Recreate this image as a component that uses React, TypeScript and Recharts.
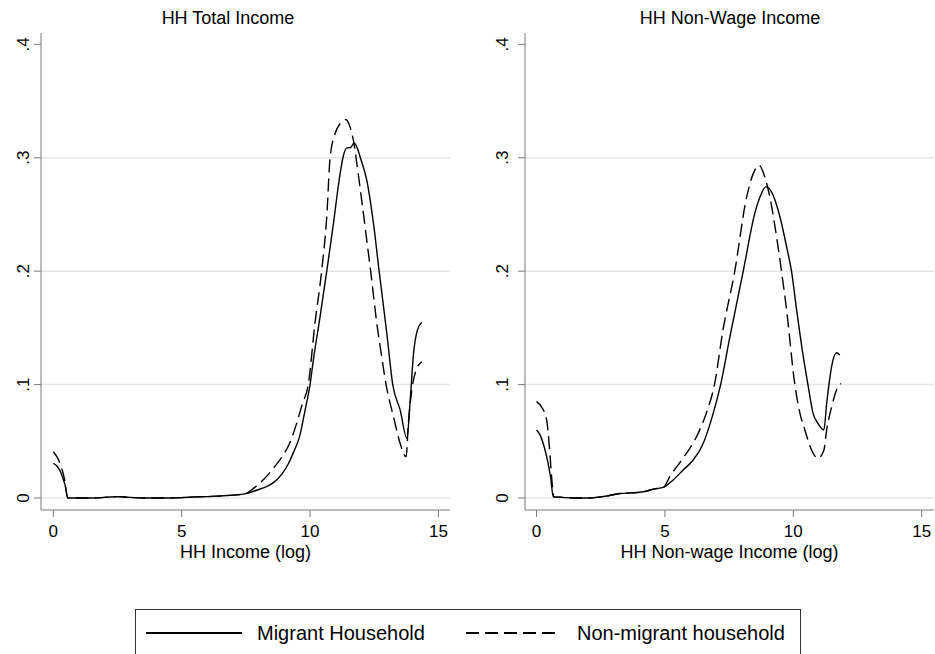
import { LineChart, Line, XAxis, YAxis, CartesianGrid } from 'recharts'

// kernel density estimates, log household income
const totalMigrantX = [0, 0.15, 0.3, 0.45, 0.58, 1, 1.5, 2, 2.5, 3, 3.5, 4, 4.5, 5, 5.5, 6, 6.5, 7, 7.5, 8, 8.3, 8.6, 8.9, 9.15, 9.35, 9.6, 9.81, 10.0, 10.13, 10.39, 10.65, 10.91, 11.17, 11.3, 11.43, 11.58, 11.71, 11.85, 11.95, 12.21, 12.47, 12.69, 12.99, 13.22, 13.51, 13.77, 13.9, 14.03, 14.18, 14.35]
const totalMigrantY = [0.0305, 0.028, 0.022, 0.012, 0, 0, 0, 0.0005, 0.0012, 0.0005, 0, 0, 0, 0.0003, 0.001, 0.0012, 0.0018, 0.0025, 0.0038, 0.0075, 0.01, 0.014, 0.021, 0.03, 0.04, 0.055, 0.078, 0.1, 0.122, 0.16, 0.2, 0.242, 0.286, 0.302, 0.3087, 0.309, 0.313, 0.308, 0.3007, 0.28, 0.242, 0.2, 0.145, 0.1, 0.0775, 0.0526, 0.086, 0.1275, 0.148, 0.155]

const totalNonMigrantX = [0, 0.15, 0.3, 0.45, 0.55, 1, 1.5, 2, 2.5, 3, 3.5, 4, 4.5, 5, 5.5, 6, 6.5, 7, 7.5, 7.8, 8.18, 8.6, 8.9, 9.2, 9.48, 9.7, 9.93, 10.19, 10.45, 10.65, 10.78, 10.97, 11.17, 11.39, 11.56, 11.69, 11.79, 12.01, 12.21, 12.36, 12.6, 12.79, 12.96, 13.25, 13.51, 13.74, 13.83, 13.96, 14.13, 14.35]
const totalNonMigrantY = [0.0408, 0.036, 0.028, 0.015, 0, 0, 0, 0.0005, 0.0012, 0.0005, 0, 0, 0, 0.0003, 0.001, 0.0012, 0.0018, 0.0025, 0.004, 0.0085, 0.016, 0.027, 0.036, 0.048, 0.066, 0.083, 0.1, 0.154, 0.2, 0.248, 0.3, 0.321, 0.33, 0.3337, 0.327, 0.315, 0.3, 0.2626, 0.227, 0.2, 0.154, 0.1245, 0.1, 0.0716, 0.048, 0.0364, 0.066, 0.095, 0.1128, 0.12]

const nonWageMigrantX = [0, 0.15, 0.3, 0.45, 0.55, 0.65, 1, 1.5, 2, 2.34, 2.8, 3.25, 3.7, 4.16, 4.6, 4.94, 5.32, 5.71, 6.1, 6.45, 6.88, 7.17, 7.53, 8.05, 8.5, 8.76, 8.93, 9.15, 9.48, 9.74, 9.93, 10.13, 10.33, 10.57, 10.77, 10.96, 11.19, 11.3, 11.49, 11.68, 11.81]
const nonWageMigrantY = [0.06, 0.055, 0.045, 0.0305, 0.018, 0.001, 0.0005, 0, 0, 0.0005, 0.002, 0.004, 0.0045, 0.0055, 0.008, 0.0094, 0.0159, 0.0247, 0.0335, 0.046, 0.0746, 0.1, 0.142, 0.2, 0.251, 0.2685, 0.2743, 0.27, 0.248, 0.2214, 0.2, 0.1656, 0.1333, 0.1, 0.0746, 0.0658, 0.06, 0.0834, 0.1157, 0.128, 0.126]

const nonWageNonMigrantX = [0, 0.2, 0.39, 0.5, 0.6, 0.68, 1, 1.5, 2, 2.34, 2.8, 3.25, 3.7, 4.16, 4.6, 4.94, 5.19, 5.7, 6.23, 6.6, 6.93, 7.26, 7.72, 8.18, 8.44, 8.66, 8.89, 9.09, 9.35, 9.54, 9.74, 10.06, 10.26, 10.45, 10.71, 10.96, 11.19, 11.3, 11.49, 11.68, 11.86]
const nonWageNonMigrantY = [0.085, 0.08, 0.069, 0.045, 0.015, 0.001, 0.0005, 0, 0, 0.0005, 0.002, 0.004, 0.0045, 0.0055, 0.008, 0.0094, 0.0188, 0.035, 0.054, 0.074, 0.1, 0.148, 0.2, 0.265, 0.286, 0.2934, 0.283, 0.265, 0.23, 0.2, 0.1656, 0.1, 0.0746, 0.06, 0.0423, 0.035, 0.042, 0.06, 0.08, 0.095, 0.101]

const xTicks = [0, 5, 10, 15]
const yTicks = [0, 0.1, 0.2, 0.3, 0.4]
const yTickLabels = ['0', '.1', '.2', '.3', '.4']
const gridValues = [0, 0.1, 0.2, 0.3]

const FONT = '"Liberation Sans", Arial, sans-serif'
const DASH = '13 6'
const AXIS_GRAY = '#7a7a7a'

const zip = (xs: number[], ys: number[]) => xs.map((x, i) => ({ x, y: ys[i] }))

function RotatedTick(props: any) {
  const { x, y, payload, shift } = props
  const cx = x - shift
  const idx = yTicks.indexOf(payload.value)
  return (
    <text x={cx} y={y} dy="0.35em" textAnchor="middle" fontSize={17} fontFamily={FONT} fill="#000"
      transform={`rotate(-90 ${cx} ${y})`}>
      {idx >= 0 ? yTickLabels[idx] : payload.value}
    </text>
  )
}

interface PanelProps {
  left: number
  width: number
  yAxisWidth: number
  marginRight: number
  xDomain: [number, number]
  tickShift: number
  title: string
  titleCenter: number
  xLabel: string
  migrant: { x: number; y: number }[]
  nonMigrant: { x: number; y: number }[]
}

function Panel({ left, width, yAxisWidth, marginRight, xDomain, tickShift, title, titleCenter, xLabel, migrant, nonMigrant }: PanelProps) {
  return (
    <>
      <div style={{ position: 'absolute', left: titleCenter - 150, top: 8, width: 300, textAlign: 'center', fontFamily: FONT, fontSize: 18, lineHeight: '21px', color: '#000' }}>
        {title}
      </div>
      <div style={{ position: 'absolute', left, top: 0 }}>
        <LineChart width={width} height={580} margin={{ top: 33, right: marginRight, left: 0, bottom: 0 }}>
          <CartesianGrid vertical={false} horizontalValues={gridValues} stroke="#e6e6e6" strokeWidth={1.5} />
          <XAxis type="number" dataKey="x" domain={xDomain} ticks={xTicks} allowDataOverflow height={70}
            stroke={AXIS_GRAY} tickSize={7} tickMargin={8}
            tick={{ fontSize: 17, fontFamily: FONT, fill: '#000' }}
            label={{ value: xLabel, position: 'insideBottom', offset: 22, fontSize: 18, fontFamily: FONT, fill: '#000' }} />
          <YAxis type="number" dataKey="y" domain={[-0.0106, 0.41]} ticks={yTicks} allowDataOverflow width={yAxisWidth}
            stroke={AXIS_GRAY} tickSize={7} tickMargin={2}
            tick={<RotatedTick shift={tickShift} />} />
          <Line data={migrant} dataKey="y" type="monotone" stroke="#000" strokeWidth={1.4} dot={false} isAnimationActive={false} />
          <Line data={nonMigrant} dataKey="y" type="monotone" stroke="#000" strokeWidth={1.4} strokeDasharray={DASH} dot={false} isAnimationActive={false} />
        </LineChart>
      </div>
    </>
  )
}

export default function App() {
  return (
    <div style={{ position: 'absolute', left: 0, top: 0, width: 935, height: 654, background: '#fff', overflow: 'hidden' }}>
      <Panel left={0} width={467} yAxisWidth={41} marginRight={17} xDomain={[-0.48, 15.45]} tickShift={9}
        title="HH Total Income" titleCenter={228} xLabel="HH Income (log)"
        migrant={zip(totalMigrantX, totalMigrantY)} nonMigrant={zip(totalNonMigrantX, totalNonMigrantY)} />
      <Panel left={467} width={468} yAxisWidth={58} marginRight={1} xDomain={[-0.45, 15.48]} tickShift={14}
        title="HH Non-Wage Income" titleCenter={730} xLabel="HH Non-wage Income (log)"
        migrant={zip(nonWageMigrantX, nonWageMigrantY)} nonMigrant={zip(nonWageNonMigrantX, nonWageNonMigrantY)} />

      {/* legend */}
      <div style={{ position: 'absolute', left: 135, top: 609, width: 666, height: 70, border: '1.5px solid #333', boxSizing: 'border-box' }} />
      <svg style={{ position: 'absolute', left: 0, top: 600 }} width={935} height={54}>
        <line x1={146} x2={242} y1={33} y2={33} stroke="#000" strokeWidth={2} />
        <text x={257} y={33} dy="0.35em" fontSize={20} fontFamily={FONT} fill="#000">Migrant Household</text>
        <line x1={466} x2={558} y1={33} y2={33} stroke="#000" strokeWidth={2} strokeDasharray={DASH} />
        <text x={577} y={33} dy="0.35em" fontSize={20} fontFamily={FONT} fill="#000">Non-migrant household</text>
      </svg>
    </div>
  )
}
